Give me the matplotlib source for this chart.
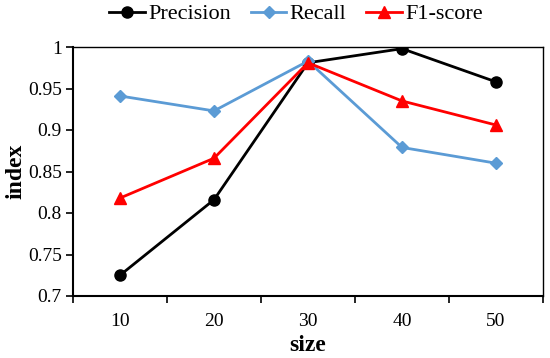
import matplotlib
matplotlib.use("Agg")
import matplotlib.pyplot as plt
import numpy as np

sizes = ["10", "20", "30", "40", "50"]
precision = [0.725, 0.816, 0.981, 0.998, 0.958]
recall = [0.941, 0.923, 0.983, 0.879, 0.860]
f1 = [0.818, 0.866, 0.981, 0.935, 0.906]
yticks = [0.7, 0.75, 0.8, 0.85, 0.9, 0.95, 1.0]
ylabels = ["0.7", "0.75", "0.8", "0.85", "0.9", "0.95", "1"]

plt.rcParams['font.family'] = ['Liberation Serif', 'DejaVu Serif']

fig = plt.figure(figsize=(5.5, 3.58), dpi=100)
ax = fig.add_axes([73/550, 1-296/358, 470/550, 249/358])

x = np.arange(len(sizes))
ax.plot(x, precision, color='black', lw=2, marker='o', ms=8, label='Precision')
ax.plot(x, recall, color='#5B9BD5', lw=2, marker='D', ms=6, label='Recall')
ax.plot(x, f1, color='#FF0000', lw=2, marker='^', ms=8, label='F1-score')

ax.set_xlim(-0.5, 4.5)
ax.set_ylim(0.7, 1.0)
ax.set_yticks(yticks)
ax.set_yticklabels(ylabels)
ax.set_xticks(x)
ax.set_xticklabels(sizes)
ax.set_xticks(np.arange(-0.5, 5, 1), minor=True)
ax.tick_params(axis='x', which='major', length=0, labelsize=14, pad=12)
ax.tick_params(axis='x', which='minor', length=5, width=1.2, direction='out')
ax.tick_params(axis='y', length=5, width=1.2, direction='out', labelsize=14, pad=3)
for s in ax.spines.values():
    s.set_linewidth(1.0)
ax.spines['left'].set_linewidth(1.5)
ax.spines['bottom'].set_linewidth(1.5)

ax.set_xlabel('size', fontsize=17, fontweight='bold', labelpad=4)
ax.set_ylabel('index', fontsize=17, fontweight='bold', labelpad=1)

fig.legend(loc='upper center', bbox_to_anchor=(296/550, 1.045), ncol=3, frameon=False,
           fontsize=16, handlelength=1.6, handletextpad=0.15, columnspacing=0.9)

fig.savefig('out.png', dpi=100)
